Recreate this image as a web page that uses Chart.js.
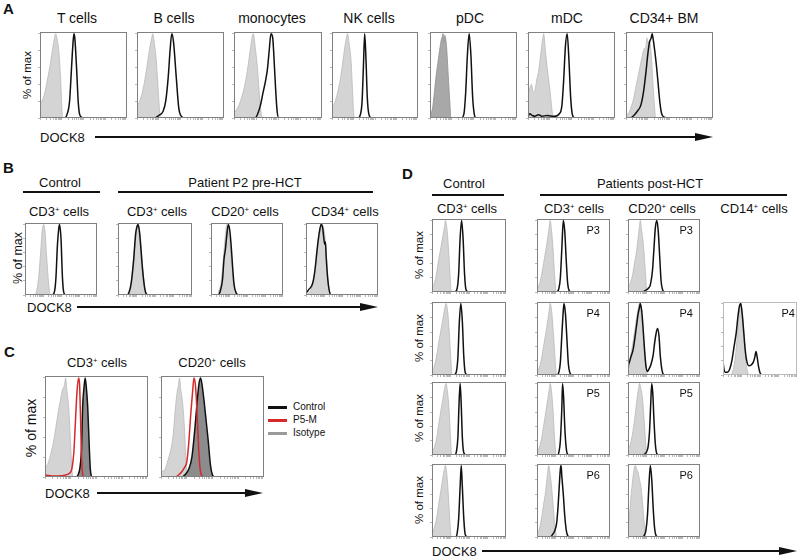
<!DOCTYPE html>
<html>
<head>
<meta charset="utf-8">
<script src="https://cdn.jsdelivr.net/npm/chart.js@4.4.1/dist/chart.umd.min.js"></script>
<style>
  body { margin: 0; width: 800px; height: 559px; position: relative; overflow: hidden; background: #fff;
         font-family: "Liberation Sans", Arial, Helvetica, sans-serif; color: #111; }
  .t { position: absolute; white-space: nowrap; line-height: 1; }
  .ctr { transform: translateX(-50%); }
  .rot { transform: translate(-50%, -50%) rotate(-90deg); font-size: 11.5px; }
  .big { font-weight: bold; font-size: 15px; }
  .sup { font-size: 0.6em; position: relative; top: -0.5em; }
  .rule { position: absolute; height: 2px; background: #111; }
  .head { position: absolute; width: 0; height: 0; border-top: 4px solid transparent; border-bottom: 4px solid transparent; border-left: 18px solid #111; }
  .leg { position: absolute; height: 2.5px; width: 19px; }
  canvas { position: absolute; }
</style>
</head>
<body>

<!-- panel A text -->
<div class="t big" style="left:3px;top:1px">A</div>
<div class="t ctr" style="left:77px;top:11px;font-size:14px">T cells</div>
<div class="t ctr" style="left:174px;top:11px;font-size:14px">B cells</div>
<div class="t ctr" style="left:272px;top:11px;font-size:14px">monocytes</div>
<div class="t ctr" style="left:369px;top:11px;font-size:14px">NK cells</div>
<div class="t ctr" style="left:470px;top:11px;font-size:14px">pDC</div>
<div class="t ctr" style="left:567px;top:11px;font-size:14px">mDC</div>
<div class="t ctr" style="left:664px;top:11px;font-size:14px">CD34+ BM</div>
<div class="t rot" style="left:28px;top:75px">% of max</div>
<div class="t" style="left:40px;top:131px;font-size:13px">DOCK8</div>
<div class="rule" style="left:95px;top:136px;width:602px"></div>
<div class="head" style="left:695px;top:133px"></div>

<!-- panel B text -->
<div class="t big" style="left:3px;top:160px">B</div>
<div class="t ctr" style="left:60px;top:176px;font-size:13px">Control</div>
<div class="t ctr" style="left:245px;top:176px;font-size:13px">Patient P2 pre-HCT</div>
<div class="rule" style="left:23px;top:191px;width:77px"></div>
<div class="rule" style="left:118px;top:191px;width:255px"></div>
<div class="t ctr" style="left:59px;top:205px;font-size:13px">CD3<span class="sup">+</span> cells</div>
<div class="t ctr" style="left:157px;top:205px;font-size:13px">CD3<span class="sup">+</span> cells</div>
<div class="t ctr" style="left:245px;top:205px;font-size:13px">CD20<span class="sup">+</span> cells</div>
<div class="t ctr" style="left:345px;top:205px;font-size:13px">CD34<span class="sup">+</span> cells</div>
<div class="t rot" style="left:18px;top:258px;font-size:12.5px">% of max</div>
<div class="t" style="left:27px;top:301px;font-size:13px">DOCK8</div>
<div class="rule" style="left:77px;top:306px;width:285px"></div>
<div class="head" style="left:360px;top:303px"></div>

<!-- panel C text -->
<div class="t big" style="left:4px;top:344px">C</div>
<div class="t ctr" style="left:97px;top:356px;font-size:13px">CD3<span class="sup">+</span> cells</div>
<div class="t ctr" style="left:212px;top:356px;font-size:13px">CD20<span class="sup">+</span> cells</div>
<div class="t rot" style="left:31px;top:428px;font-size:14px">% of max</div>
<div class="leg" style="left:268px;top:406px;background:#111"></div>
<div class="leg" style="left:268px;top:419px;background:#d42a2a"></div>
<div class="leg" style="left:268px;top:432px;background:#9a9a9a"></div>
<div class="t" style="left:293px;top:402px;font-size:10px">Control</div>
<div class="t" style="left:293px;top:415px;font-size:10px">P5-M</div>
<div class="t" style="left:293px;top:428px;font-size:10px">Isotype</div>
<div class="t" style="left:45px;top:487px;font-size:13px">DOCK8</div>
<div class="rule" style="left:97px;top:492px;width:150px"></div>
<div class="head" style="left:245px;top:489px"></div>

<!-- panel D text -->
<div class="t big" style="left:402px;top:166px">D</div>
<div class="t ctr" style="left:464px;top:177px;font-size:13px">Control</div>
<div class="t ctr" style="left:650px;top:177px;font-size:13px">Patients post-HCT</div>
<div class="rule" style="left:432px;top:194px;width:72px"></div>
<div class="rule" style="left:540px;top:194px;width:247px"></div>
<div class="t ctr" style="left:467px;top:202px;font-size:13px">CD3<span class="sup">+</span> cells</div>
<div class="t ctr" style="left:574px;top:202px;font-size:13px">CD3<span class="sup">+</span> cells</div>
<div class="t ctr" style="left:662px;top:202px;font-size:13px">CD20<span class="sup">+</span> cells</div>
<div class="t ctr" style="left:754px;top:202px;font-size:13px">CD14<span class="sup">+</span> cells</div>
<div class="t rot" style="left:420px;top:255px">% of max</div>
<div class="t rot" style="left:420px;top:338px">% of max</div>
<div class="t rot" style="left:420px;top:418px">% of max</div>
<div class="t rot" style="left:420px;top:500px">% of max</div>
<div class="t" style="left:432px;top:545px;font-size:13px">DOCK8</div>
<div class="rule" style="left:482px;top:550px;width:300px"></div>
<div class="head" style="left:779px;top:547px"></div>

<div id="charts"></div>

<script>
// DOCK8 histograms, x = fluorescence (% of axis width), y = % of max
// ---- panel A ----
const isoAT    = [[0,16],[3,22],[6,32],[9,48],[12,65],[15,85],[17,97],[18,100],[20,92],[22,75],[24,40],[25,15],[26,0],[100,0]];
const dockAT   = [[0,0],[28,0],[31,4],[34,20],[36,55],[38,90],[39,100],[40,95],[42,60],[44,18],[46,3],[50,0],[100,0]];
const isoAB    = [[0,14],[3,20],[6,30],[9,45],[12,65],[15,85],[17,95],[18,100],[20,88],[22,70],[24,40],[26,8],[27,0],[100,0]];
const dockAB   = [[0,0],[20,0],[25,3],[30,8],[33,20],[36,50],[38,80],[40,100],[42,90],[45,50],[48,12],[51,2],[55,0],[100,0]];
const isoAMono = [[0,6],[4,12],[8,22],[12,38],[16,62],[19,85],[21,98],[22,100],[24,85],[27,55],[29,25],[31,5],[32,0],[100,0]];
const dockAMono= [[0,0],[24,0],[27,5],[30,15],[33,30],[36,45],[38,58],[40,80],[42,100],[44,95],[45,80],[47,40],[49,8],[51,0],[100,0]];
const isoANK   = [[0,12],[3,18],[6,28],[9,42],[12,62],[15,85],[17,96],[18,100],[20,88],[22,70],[24,30],[25,8],[26,0],[100,0]];
const dockANK  = [[0,0],[30,0],[33,4],[35,20],[36.5,60],[38,100],[39.5,70],[41,25],[43,4],[46,0],[100,0]];
const isoApDC  = [[0,2],[3,12],[5,30],[7,50],[9,65],[11,80],[13,93],[14,96],[15,100],[16,90],[17,98],[19,85],[21,50],[23,15],[24,0],[100,0]];
const dockApDC = [[0,0],[36,0],[39,5],[41,30],[43,75],[45,100],[47,75],[49,25],[51,4],[53,0],[100,0]];
const isoAmDC  = [[0,28],[2,35],[4,40],[6,30],[8,33],[10,45],[12,55],[14,70],[16,88],[17,95],[18,100],[20,80],[22,60],[25,35],[27,15],[29,0],[100,0]];
const dockAmDC = [[0,2],[2,5],[5,3],[8,2],[12,4],[16,2],[22,3],[30,2],[36,5],[39,15],[41,45],[43,85],[45,100],[47,70],[49,25],[51,4],[54,0],[100,0]];
const isoACD34 = [[0,2],[4,8],[8,20],[12,40],[16,60],[19,75],[21,82],[23,85],[24,95],[25,90],[27,92],[29,75],[31,40],[33,10],[34,0],[100,0]];
const dockACD34= [[0,0],[5,0],[9,3],[13,8],[17,15],[20,30],[23,55],[25,75],[27,90],[29,95],[30,100],[31,95],[33,80],[35,62],[37,40],[39,18],[41,5],[44,1],[48,0],[100,0]];
// ---- panel B ----
const isoBCtl  = [[0,0],[14,0],[16,5],[19,25],[22,65],[24,92],[26,100],[28,88],[30,55],[33,15],[35,0],[100,0]];
const dockBCtl = [[0,0],[38,0],[41,5],[43,25],[45,70],[47,95],[48,100],[50,80],[52,25],[54,3],[57,0],[100,0]];
const isoBCD3  = [[0,0],[12,0],[15,5],[18,20],[21,50],[24,85],[27,100],[30,85],[33,45],[36,12],[39,0],[100,0]];
const dockBCD3 = [[0,0],[12,0],[15,4],[18,18],[21,48],[24,88],[26,98],[27,100],[29,90],[31,65],[33,38],[36,10],[38,2],[42,0],[100,0]];
const isoBCD20 = [[0,0],[9,0],[11,6],[14,18],[17,50],[20,85],[22,100],[24,90],[27,65],[30,30],[33,8],[36,0],[100,0]];
const dockBCD20= [[0,0],[10,0],[13,6],[16,22],[18,50],[20,65],[22,85],[24,100],[26,92],[28,70],[30,40],[32,15],[35,3],[38,0],[100,0]];
const isoBCD34 = [[0,0],[4,3],[8,10],[11,25],[14,50],[17,75],[20,92],[22,100],[25,92],[27,75],[29,45],[31,15],[33,0],[100,0]];
const dockBCD34= [[0,3],[2,5],[4,8],[6,10],[9,16],[11,25],[13,40],[15,60],[17,78],[19,92],[21,100],[23,96],[25,78],[26,72],[27,75],[28,55],[30,25],[32,8],[35,0],[100,0]];
// ---- panel C ----
const isoCCD3  = [[0,10],[3,14],[6,25],[9,40],[12,60],[15,78],[17,88],[19,93],[20,100],[21,90],[23,70],[25,30],[26,10],[27,0],[100,0]];
const ctlCCD3  = [[0,0],[30,0],[32,2],[34,10],[35.5,30],[36.5,70],[38,92],[39,100],[40,92],[41.5,70],[43,30],[44,8],[46,0],[100,0]];
const p5CCD3   = [[0,2],[10,1],[20,2],[24,4],[26,8],[28,25],[29.5,55],[31,85],[32.5,100],[33.5,95],[34.5,60],[35.5,20],[36.5,3],[38,0],[100,0]];
const isoCCD20 = [[0,5],[4,8],[7,18],[10,30],[12,45],[14,70],[16,88],[17,93],[18,100],[19,90],[21,75],[23,45],[24,20],[25,5],[26,0],[100,0]];
const ctlCCD20 = [[0,0],[20,0],[24,3],[27,8],[30,20],[33,50],[35,75],[37,95],[38.5,100],[40,92],[42,75],[44,55],[46,35],[48,12],[50,2],[52,0],[100,0]];
const p5CCD20  = [[0,0],[14,0],[17,2],[20,5],[23,10],[25,15],[27,35],[29,65],[31,90],[32,100],[33.5,92],[35,65],[36.5,30],[38,8],[40,1],[42,0],[100,0]];
// ---- panel D (rows = control/P3, P4, P5, P6) ----
const isoD1Ctl  = [[0,8],[3,12],[6,25],[9,45],[12,62],[15,80],[17,92],[18,100],[20,90],[22,65],[24,30],[25.5,5],[26,0],[100,0]];
const dockD1Ctl = [[0,0],[31,0],[34,5],[36,25],[38,75],[40,100],[42,75],[44,25],[46,3],[49,0],[100,0]];
const isoD1CD3  = [[0,5],[3,10],[6,22],[9,40],[12,58],[15,78],[17,93],[18,100],[20,85],[22,60],[24,25],[25.5,5],[26,0],[100,0]];
const dockD1CD3 = [[0,0],[27,0],[30,5],[32,20],[34,60],[36,100],[38,85],[40,45],[42,12],[44,2],[47,0],[100,0]];
const isoD1CD20 = [[0,8],[3,12],[6,22],[9,40],[12,58],[14,75],[16,92],[17,100],[19,85],[21,70],[23,45],[25,15],[26,0],[100,0]];
const dockD1CD20= [[0,0],[20,0],[24,2],[28,5],[31,10],[34,30],[36,60],[38,90],[40,100],[42,85],[44,50],[46,15],[48,3],[51,0],[100,0]];
const isoD2Ctl  = [[0,8],[3,12],[6,25],[9,45],[12,62],[15,80],[17,92],[19,100],[21,90],[23,65],[25,30],[26.5,5],[27,0],[100,0]];
const dockD2Ctl = [[0,0],[30,0],[33,5],[35,25],[37,75],[39,100],[41,75],[43,25],[45,3],[48,0],[100,0]];
const isoD2CD3  = [[0,5],[3,10],[6,22],[9,40],[12,58],[15,78],[17,93],[18,100],[20,90],[22,65],[24,35],[26,5],[27,0],[100,0]];
const dockD2CD3 = [[0,0],[27,0],[30,4],[32,18],[34,55],[36,90],[37,100],[39,85],[41,50],[43,15],[45,3],[48,0],[100,0]];
const isoD2CD20 = [[0,15],[3,25],[6,40],[9,60],[12,80],[14,92],[16,100],[18,90],[20,70],[22,45],[24,20],[26,5],[27,0],[100,0]];
const dockD2CD20= [[0,0],[0.5,12],[2,18],[4,25],[7,35],[10,55],[12,70],[14,85],[16,95],[17,100],[19,90],[21,65],[23,35],[25,12],[27,5],[29,8],[32,15],[35,28],[37,45],[39,58],[41,65],[43,55],[45,25],[47,8],[49,1],[52,0],[100,0]];
const isoD2CD14 = [[0,0],[10,0],[13,5],[16,20],[19,50],[22,85],[24,100],[26,85],[29,50],[31,20],[33,5],[35,0],[100,0]];
const dockD2CD14= [[0,20],[1,10],[3,4],[6,4],[9,8],[12,20],[15,40],[18,60],[20,80],[22,95],[24,100],[26,85],[28,60],[30,35],[32,20],[35,13],[38,14],[41,18],[43,25],[44.5,33],[46,26],[48,12],[50,3],[53,0],[100,0]];
const isoD3Ctl  = [[0,5],[3,10],[6,22],[9,42],[12,62],[15,80],[17,93],[19,100],[21,88],[23,65],[25,25],[26.5,0],[100,0]];
const dockD3Ctl = [[0,0],[31,0],[33,5],[35,25],[36.5,70],[38,100],[39.5,70],[41,25],[43,3],[46,0],[100,0]];
const isoD3CD3  = [[0,5],[3,10],[6,22],[9,40],[12,60],[15,80],[17,93],[18,100],[20,88],[22,62],[24,25],[25.5,4],[26,0],[100,0]];
const dockD3CD3 = [[0,0],[28,0],[30,4],[32,20],[34,65],[35,100],[36.5,80],[38,40],[40,10],[42,1],[45,0],[100,0]];
const isoD3CD20 = [[0,8],[3,14],[6,28],[9,48],[11,65],[13,82],[15,95],[16,100],[18,92],[20,80],[22,55],[24,25],[25.5,5],[26,0],[100,0]];
const dockD3CD20= [[0,0],[20,0],[24,2],[26,5],[28,12],[30,35],[31.5,70],[33,100],[34.5,85],[36,50],[38,15],[40,2],[43,0],[100,0]];
const isoD4Ctl  = [[0,5],[3,12],[6,25],[9,45],[12,65],[15,85],[17,96],[18,100],[20,88],[22,60],[24,25],[25.5,3],[26,0],[100,0]];
const dockD4Ctl = [[0,0],[32,0],[34,5],[36,25],[38,70],[39.5,100],[41,70],[43,25],[45,3],[48,0],[100,0]];
const isoD4CD3  = [[0,5],[3,10],[6,25],[9,45],[12,65],[14,85],[16,100],[18,88],[20,70],[22,45],[24,20],[26,5],[27,0],[100,0]];
const dockD4CD3 = [[0,0],[18,0],[21,3],[24,8],[27,20],[29,45],[31,80],[32,95],[33,100],[34,85],[36,60],[38,30],[40,10],[42,2],[45,0],[100,0]];
const isoD4CD20 = [[0,10],[2,30],[4,55],[6,75],[8,92],[10,100],[12,95],[14,90],[16,80],[18,70],[20,50],[22,25],[23.5,8],[24,0],[100,0]];
const dockD4CD20= [[0,0],[20,0],[23,3],[25,10],[27,30],[29,70],[31,100],[33,80],[35,40],[37,12],[39,2],[42,0],[100,0]];

// log-scale tick marks on the axes
const tickX = [0,7.5,12,15,17.5,19.5,21,22.5,23.8,25,32.5,37,40,42.5,44.5,46,47.5,48.8,50,57.5,62,65,67.5,69.5,71,72.5,73.8,75,82.5,87,90,92.5,94.5,96,97.5,98.8,100];
const tickY = [0,20,40,60,80,100];

const looks = {
  iso:     { borderColor: '#b9b9b9', backgroundColor: '#d4d4d4', borderWidth: 0.8, fill: 'origin', order: 3 },
  isoDark: { borderColor: '#8e8e8e', backgroundColor: '#a8a8a8', borderWidth: 0.8, fill: 'origin', order: 3 },
  dock:    { borderColor: '#111', borderWidth: 1.5, fill: false, order: 1 },
  ctl:     { borderColor: '#111', backgroundColor: '#8c8c8c', borderWidth: 1.5, fill: 'origin', order: 2 },
  red:     { borderColor: '#d42a2a', borderWidth: 1.5, fill: false, order: 1 }
};

// box position and size of each histogram
const dCols = [[432, 74], [537, 73], [628, 72], [723, 74]];
const dRows = [219, 302, 382, 464];
const panels = [
  { box: [40, 32, 87, 86],  sets: [['iso', isoAT], ['dock', dockAT]] },
  { box: [137, 32, 87, 86], sets: [['iso', isoAB], ['dock', dockAB]] },
  { box: [234, 32, 88, 86], sets: [['iso', isoAMono], ['dock', dockAMono]] },
  { box: [332, 32, 86, 86], sets: [['iso', isoANK], ['dock', dockANK]] },
  { box: [430, 32, 87, 86], sets: [['isoDark', isoApDC], ['dock', dockApDC]] },
  { box: [528, 32, 87, 86], sets: [['iso', isoAmDC], ['dock', dockAmDC]] },
  { box: [626, 32, 87, 86], sets: [['iso', isoACD34], ['dock', dockACD34]] },

  { box: [25, 223, 72, 72],  sets: [['iso', isoBCtl], ['dock', dockBCtl]] },
  { box: [118, 223, 74, 72], sets: [['iso', isoBCD3], ['dock', dockBCD3]] },
  { box: [211, 223, 72, 72], sets: [['iso', isoBCD20], ['dock', dockBCD20]] },
  { box: [306, 223, 72, 72], sets: [['iso', isoBCD34], ['dock', dockBCD34]] },

  { box: [45, 376, 103, 101],  sets: [['iso', isoCCD3], ['ctl', ctlCCD3], ['red', p5CCD3]] },
  { box: [161, 376, 103, 101], sets: [['iso', isoCCD20], ['ctl', ctlCCD20], ['red', p5CCD20]] },

  { col: 0, row: 0, sets: [['iso', isoD1Ctl], ['dock', dockD1Ctl]] },
  { col: 1, row: 0, tag: 'P3', sets: [['iso', isoD1CD3], ['dock', dockD1CD3]] },
  { col: 2, row: 0, tag: 'P3', sets: [['iso', isoD1CD20], ['dock', dockD1CD20]] },
  { col: 0, row: 1, sets: [['iso', isoD2Ctl], ['dock', dockD2Ctl]] },
  { col: 1, row: 1, tag: 'P4', sets: [['iso', isoD2CD3], ['dock', dockD2CD3]] },
  { col: 2, row: 1, tag: 'P4', sets: [['iso', isoD2CD20], ['dock', dockD2CD20]] },
  { col: 3, row: 1, tag: 'P4', light: true, sets: [['iso', isoD2CD14], ['dock', dockD2CD14]] },
  { col: 0, row: 2, sets: [['iso', isoD3Ctl], ['dock', dockD3Ctl]] },
  { col: 1, row: 2, tag: 'P5', sets: [['iso', isoD3CD3], ['dock', dockD3CD3]] },
  { col: 2, row: 2, tag: 'P5', sets: [['iso', isoD3CD20], ['dock', dockD3CD20]] },
  { col: 0, row: 3, sets: [['iso', isoD4Ctl], ['dock', dockD4Ctl]] },
  { col: 1, row: 3, tag: 'P6', sets: [['iso', isoD4CD3], ['dock', dockD4CD3]] },
  { col: 2, row: 3, tag: 'P6', sets: [['iso', isoD4CD20], ['dock', dockD4CD20]] }
];
const tagGap = [0, 10, 7, 2];

// draws the box around the plot area
const frame = {
  id: 'frame',
  afterDatasetsDraw(chart, args, opts) {
    const { left, top, right, bottom } = chart.chartArea;
    const ctx = chart.ctx;
    ctx.save();
    ctx.strokeStyle = opts.color;
    ctx.lineWidth = 1;
    ctx.strokeRect(left + 0.5, top + 0.5, right - left - 1, bottom - top - 1);
    ctx.restore();
  }
};

const holder = document.getElementById('charts');
const TL = 2; // tick length

panels.forEach(p => {
  let box = p.box;
  if (!box) box = [dCols[p.col][0], dRows[p.row], dCols[p.col][1], 73];
  const [bx, by, bw, bh] = box;

  const cv = document.createElement('canvas');
  cv.width = bw + TL;
  cv.height = bh + TL;
  cv.style.left = (bx - TL) + 'px';
  cv.style.top = by + 'px';
  cv.style.width = cv.width + 'px';
  cv.style.height = cv.height + 'px';
  holder.appendChild(cv);

  const tickGrid = { drawOnChartArea: false, drawTicks: true, tickLength: TL, color: '#999', lineWidth: 0.7 };

  new Chart(cv, {
    type: 'line',
    data: {
      datasets: p.sets.map(([look, pts]) => Object.assign({
        data: pts.map(([x, y]) => ({ x, y })),
        pointRadius: 0,
        cubicInterpolationMode: 'monotone'
      }, looks[look]))
    },
    options: {
      responsive: false,
      animation: false,
      devicePixelRatio: 1,
      layout: { padding: 0 },
      plugins: { legend: { display: false }, tooltip: { enabled: false }, frame: { color: p.light ? '#bbb' : '#808080' } },
      scales: {
        x: {
          type: 'linear', min: 0, max: 100,
          afterBuildTicks: s => { s.ticks = tickX.map(v => ({ value: v })); },
          ticks: { display: false }, grid: tickGrid, border: { display: false }
        },
        y: {
          type: 'linear', min: 0, max: 102,
          afterBuildTicks: s => { s.ticks = tickY.map(v => ({ value: v })); },
          ticks: { display: false }, grid: tickGrid, border: { display: false }
        }
      }
    },
    plugins: [frame]
  });

  if (p.tag) {
    const d = document.createElement('div');
    d.className = 't';
    d.textContent = p.tag;
    d.style.fontSize = '11px';
    d.style.top = (by + 5.5) + 'px';
    d.style.left = (bx + bw - tagGap[p.col]) + 'px';
    d.style.transform = 'translateX(-100%)';
    holder.appendChild(d);
  }
});
</script>
</body>
</html>
